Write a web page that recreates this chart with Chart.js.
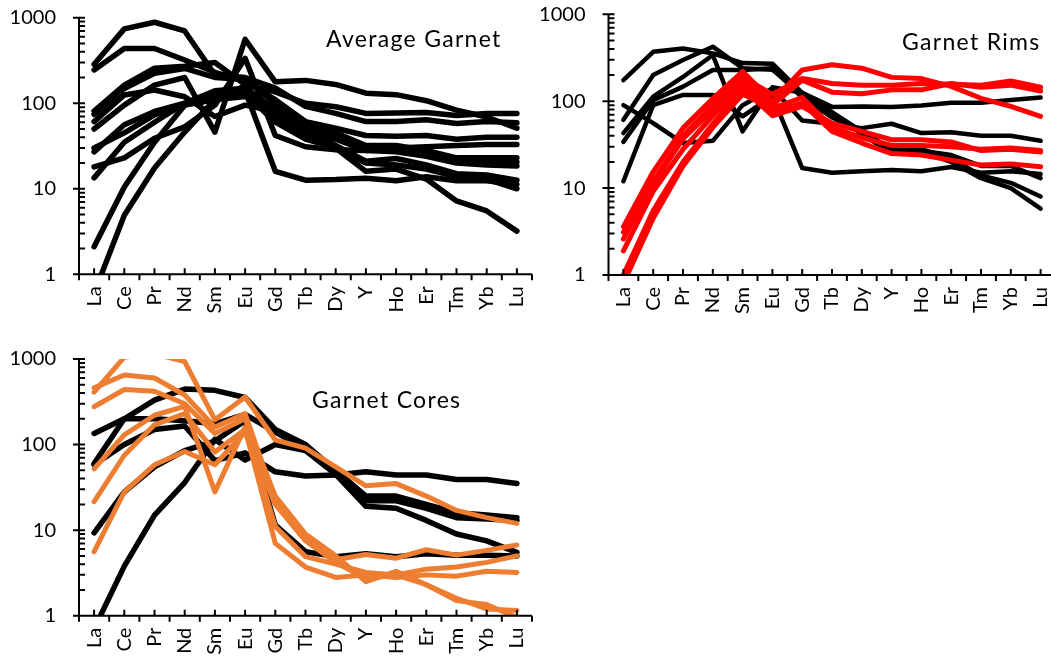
<!DOCTYPE html>
<html>
<head>
<meta charset="utf-8">
<script src="https://cdn.jsdelivr.net/npm/chart.js@4.4.0/dist/chart.umd.min.js"></script>
<style>
  body { margin: 0; background: #fff; overflow: hidden; width: 1051px; height: 663px; position: relative; font-family: Lato, sans-serif; }
  canvas { position: absolute; }
  .title { position: absolute; font-size: 23px; letter-spacing: 1.3px; line-height: 1; color: #000; white-space: nowrap; }
</style>
</head>
<body>
<canvas id="avg" width="540" height="330" style="left:0;top:0"></canvas>
<canvas id="rims" width="530" height="330" style="left:530px;top:0"></canvas>
<canvas id="cores" width="540" height="323" style="left:0;top:340px"></canvas>
<div class="title" style="left:326px;top:27px">Average Garnet</div>
<div class="title" style="left:902px;top:30px">Garnet Rims</div>
<div class="title" style="left:312px;top:388px">Garnet Cores</div>
<script>
// REE order on the x axis
const ree = ['La', 'Ce', 'Pr', 'Nd', 'Sm', 'Eu', 'Gd', 'Tb', 'Dy', 'Y', 'Ho', 'Er', 'Tm', 'Yb', 'Lu'];
const yTicks = [1, 10, 100, 1000];

// average garnet, all black
const avgSeries = [
  [285, 740, 885, 700, 215, 200, 150, 92, 76, 61, 61, 64, 58, 61, 59],
  [245, 437, 437, 320, 230, 180, 110, 61, 51, 42, 41, 42, 38, 40, 40],
  [81, 163, 257, 270, 300, 165, 136, 100, 91, 76, 77, 78, 72, 76, 76],
  [74, 149, 224, 255, 200, 190, 100, 55, 45, 32, 32, 28, 23, 23, 23],
  [61, 125, 143, 119, 70, 95, 80, 48, 32, 21, 22.6, 19, 15, 14.5, 12.6],
  [50, 95, 163, 200, 46, 560, 178, 185, 166, 131, 126, 107, 83, 69, 51],
  [30, 45, 73, 95, 110, 160, 70, 42, 30, 16, 17, 13, 7.2, 5.5, 3.2],
  [27, 56, 80, 100, 125, 130, 60, 38, 30, 20, 19, 17, 13.8, 13, 10],
  [18, 23, 39, 53, 95, 335, 42, 31, 28.5, 28, 30, 31, 32, 33, 33],
  [13.4, 35, 60, 100, 140, 150, 85, 45, 38, 28, 27, 24, 20, 19, 18.5],
  [2.1, 10.5, 35, 95, 130, 140, 16, 12.6, 12.8, 13.3, 12.4, 13.8, 12.4, 12.4, 11.2],
  [0.6, 4.9, 17.5, 46, 110, 120, 90, 50, 40, 30, 29, 26, 21, 21, 20.5]
];

// garnet rims
const rimBlack = [
  [175, 370, 405, 355, 275, 270, 125, 75, 45, 28, 28, 22, 14, 11.5, 8],
  [61, 200, 298, 424, 240, 230, 120, 70, 42, 25, 26, 20, 13, 10, 5.8],
  [43, 113, 190, 340, 45, 145, 125, 86, 87, 86, 89, 96, 96, 103, 110],
  [34, 103, 147, 229, 229, 240, 110, 65, 45, 27, 27, 24, 18, 18, 13],
  [90, 56, 33, 35, 90, 140, 60, 55, 49, 55, 43, 44, 40, 40, 35],
  [12, 90, 118, 118, 67, 115, 17, 15, 15.6, 16.2, 15.6, 17.5, 15, 15.6, 14.5]
];
const rimRed = [
  [3.6, 15.4, 49, 107, 219, 100, 229, 263, 240, 188, 182, 148, 108, 87, 67],
  [3.1, 12, 40, 90, 190, 120, 183, 160, 153, 153, 160, 157, 153, 171, 145],
  [2.6, 11, 37, 80, 175, 90, 175, 127, 122, 135, 135, 160, 145, 153, 131],
  [1.9, 9.2, 28, 68, 155, 75, 95, 45, 33, 25, 24, 21, 18.4, 19, 17.6],
  [1.0, 5.5, 20, 55, 140, 68, 87, 56, 45, 36, 36, 34, 27, 28, 26],
  [0.8, 4.5, 18, 50, 120, 83, 110, 50, 38, 31, 31, 30, 28, 29, 27]
];

// garnet cores
const coreBlack = [
  [135, 200, 200, 190, 175, 225, 140, 90, 48, 22, 22, 18, 14, 13.5, 13],
  [60, 200, 330, 445, 430, 355, 150, 100, 50, 25, 25, 20, 16, 15, 14],
  [58, 100, 150, 165, 65, 80, 48, 43, 44, 48, 44, 44, 39, 39, 35],
  [9.3, 28, 55, 85, 110, 190, 11.5, 5.6, 4.9, 5.3, 4.9, 5.3, 5.1, 5.1, 5.0],
  [0.7, 3.8, 15, 36, 115, 66, 100, 85, 45, 19, 18, 13, 9, 7.5, 5.5]
];
const coreOrange = [
  [410, 1050, 1150, 930, 195, 360, 113, 91, 55, 33, 35, 25, 17, 14, 12],
  [460, 650, 600, 380, 160, 230, 22, 8.3, 4.5, 5.2, 4.7, 5.9, 5.1, 5.8, 6.7],
  [277, 440, 420, 300, 135, 200, 25, 9, 5, 2.5, 3.3, 2.3, 1.5, 1.35, 0.95],
  [52, 130, 220, 280, 28, 160, 11, 4.9, 4.0, 3.2, 3.0, 3.5, 3.7, 4.2, 5.0],
  [21.5, 75, 170, 230, 82, 150, 7, 3.7, 2.8, 3.0, 2.8, 3.0, 2.9, 3.3, 3.2],
  [5.6, 28, 58, 83, 58, 140, 20, 7.5, 4.2, 2.7, 3.0, 2.3, 1.6, 1.2, 1.15]
];

Chart.defaults.font.family = 'Lato';
Chart.defaults.color = '#000';

// axis lines and tick marks, excel style
const axesPlugin = {
  id: 'axes',
  afterDraw(chart) {
    const { ctx, chartArea: a, scales: { x, y } } = chart;
    ctx.save();
    ctx.strokeStyle = '#000';
    ctx.lineWidth = 2;
    ctx.beginPath();
    ctx.moveTo(a.left, a.top);
    ctx.lineTo(a.left, a.bottom + 6);
    ctx.moveTo(a.left, a.bottom);
    ctx.lineTo(a.right, a.bottom);
    for (let d = 1; d <= 1000; d *= 10) {
      const p = y.getPixelForValue(d);
      ctx.moveTo(a.left - 6, p);
      ctx.lineTo(a.left + 6, p);
      if (d < 1000) {
        for (let k = 2; k < 10; k++) {
          const q = y.getPixelForValue(k * d);
          ctx.moveTo(a.left, q);
          ctx.lineTo(a.left + 6, q);
        }
      }
    }
    const step = x.getPixelForValue(1) - x.getPixelForValue(0);
    ree.forEach((_, i) => {
      const p = x.getPixelForValue(i);
      ctx.moveTo(p, a.bottom);
      ctx.lineTo(p, a.bottom - 6);
      ctx.moveTo(p + step / 2, a.bottom);
      ctx.lineTo(p + step / 2, a.bottom + 6);
    });
    ctx.stroke();
    ctx.restore();
  }
};

function lineSet(values, color, width) {
  return {
    data: values,
    borderColor: color,
    borderWidth: width,
    pointRadius: 0,
    tension: 0,
    fill: false,
    clip: 0,
    borderJoinStyle: 'round',
    borderCapStyle: 'round'
  };
}

// no label padding, so the chart area is set by the layout padding only
function noPad(s) {
  s.paddingTop = 0;
  s.paddingBottom = 0;
  s.paddingLeft = 0;
  s.paddingRight = 0;
}

// box = chart area inside the canvas
function makeChart(id, datasets, box) {
  const canvas = document.getElementById(id);
  return new Chart(canvas, {
    type: 'line',
    data: { labels: ree, datasets: datasets },
    options: {
      responsive: false,
      animation: false,
      devicePixelRatio: 1,
      layout: { autoPadding: false, padding: { top: box.top, right: canvas.width - box.right, left: 0, bottom: 0 } },
      plugins: { legend: { display: false }, tooltip: { enabled: false } },
      scales: {
        x: {
          type: 'category',
          offset: true,
          grid: { display: false, drawTicks: false },
          border: { display: false },
          ticks: { autoSkip: false, minRotation: 90, maxRotation: 90, padding: 12, font: { size: 20 } },
          afterFit(s) { s.height = canvas.height - box.bottom; noPad(s); }
        },
        y: {
          type: 'logarithmic',
          min: 1,
          max: 1000,
          grid: { display: false, drawTicks: false },
          border: { display: false },
          ticks: {
            autoSkip: false,
            padding: 23,
            font: { size: 20 },
            callback: (v) => yTicks.includes(Number(v)) ? String(v) : ''
          },
          afterFit(s) { s.width = box.left; noPad(s); }
        }
      }
    },
    plugins: [axesPlugin]
  });
}

makeChart('avg', avgSeries.map(v => lineSet(v, '#000', 5.5)),
  { left: 79, top: 17.7, right: 532, bottom: 274.3 });

makeChart('rims', rimRed.map(v => lineSet(v, '#FF0000', 5)).concat(rimBlack.map(v => lineSet(v, '#000', 4.5))),
  { left: 78.5, top: 14.3, right: 525.5, bottom: 275 });

makeChart('cores', coreOrange.map(v => lineSet(v, '#ED7D31', 5)).concat(coreBlack.map(v => lineSet(v, '#000', 5.5))),
  { left: 79, top: 19, right: 532, bottom: 275.7 });
</script>
</body>
</html>
